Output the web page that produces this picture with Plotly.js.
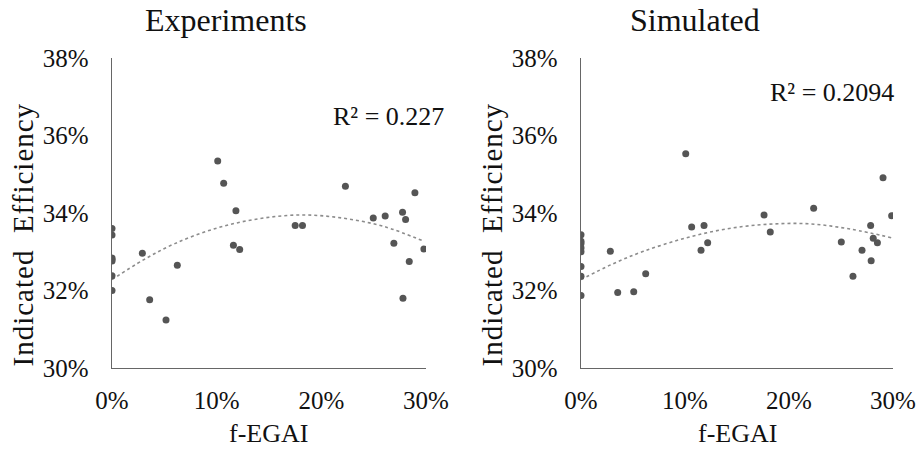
<!DOCTYPE html>
<html>
<head>
<meta charset="utf-8">
<script src="https://cdn.plot.ly/plotly-3.0.1.min.js"></script>
<style>
html,body{margin:0;padding:0;background:#fff;}
#chart{width:921px;height:450px;}
g.annotation[data-index="6"] text, g.annotation[data-index="7"] text { letter-spacing: 1px; }
</style>
</head>
<body>
<div id="chart"></div>
<script>
// Experiments (f-EGAI fraction, indicated efficiency fraction)
const expX = [0, 0, 0, 0, 0, 0, 0,
  0.029, 0.036, 0.0516, 0.0624, 0.101, 0.1067, 0.1184, 0.116, 0.122,
  0.175, 0.182, 0.223, 0.2496, 0.261, 0.2776, 0.2805, 0.2894, 0.2693, 0.298, 0.284, 0.278];
const expY = [0.3360, 0.3343, 0.3284, 0.3280, 0.3276, 0.3238, 0.3200,
  0.3296, 0.3176, 0.3124, 0.3265, 0.3534, 0.3477, 0.3406, 0.3317, 0.3306,
  0.3368, 0.3368, 0.3469, 0.3387, 0.3392, 0.3402, 0.3383, 0.3452, 0.3322, 0.3307, 0.3275, 0.3180];
// Simulated
const simX = [0, 0, 0, 0, 0, 0, 0, 0,
  0.0282, 0.0353, 0.0507, 0.0622, 0.1007, 0.1064, 0.1183, 0.1154, 0.1218,
  0.176, 0.182, 0.2237, 0.2503, 0.2615, 0.2702, 0.2785, 0.281, 0.279, 0.285, 0.2904, 0.2987];
const simY = [0.3344, 0.3327, 0.3321, 0.3310, 0.3300, 0.3262, 0.3237, 0.3187,
  0.3301, 0.3195, 0.3197, 0.3243, 0.3553, 0.3364, 0.3368, 0.3304, 0.3323,
  0.3395, 0.3351, 0.3412, 0.3325, 0.3237, 0.3304, 0.3368, 0.3335, 0.3277, 0.3323, 0.3491, 0.3393];
// Polynomial trendlines, points
const expTrendX = [0, 0.03, 0.06, 0.10, 0.14, 0.18, 0.22, 0.26, 0.298];
const expTrendY = [0.3228, 0.3279, 0.3321, 0.3361, 0.3385, 0.3395, 0.3387, 0.3365, 0.3327];
const simTrendX = [0, 0.03, 0.06, 0.10, 0.14, 0.18, 0.22, 0.26, 0.2987];
const simTrendY = [0.3228, 0.3268, 0.3301, 0.3335, 0.3359, 0.3371, 0.3372, 0.3358, 0.3336];

const titles = ["Experiments", "Simulated"];
const r2Labels = ["R² = 0.227", "R² = 0.2094"];
const xTitle = "f-EGAI";
const yTitle = "Indicated\u00A0 Efficiency";
const xTicks = [0, 0.1, 0.2, 0.3];
const yTicks = [0.30, 0.32, 0.34, 0.36, 0.38];

const FONT = 'Liberation Serif, Times New Roman, serif';
const markerColor = '#555555';
const trendLine = {color: '#8c8c8c', width: 1.6, dash: 'dot', shape: 'spline'};

const traces = [
  {x: expTrendX, y: expTrendY, xaxis: 'x', yaxis: 'y', mode: 'lines', line: trendLine, hoverinfo: 'skip'},
  {x: expX, y: expY, xaxis: 'x', yaxis: 'y', mode: 'markers', marker: {color: markerColor, size: 7}},
  {x: simTrendX, y: simTrendY, xaxis: 'x2', yaxis: 'y2', mode: 'lines', line: trendLine, hoverinfo: 'skip'},
  {x: simX, y: simY, xaxis: 'x2', yaxis: 'y2', mode: 'markers', marker: {color: markerColor, size: 7}}
];

const W = 921, H = 450;
const yDom = [1 - 368/H, 1 - 58/H];
function xAxis(dom, anchor) {
  return {domain: dom, anchor: anchor, range: [0, 0.30], tickvals: xTicks, tickformat: '.0%',
    showgrid: false, zeroline: false, showline: true, linecolor: '#666666', linewidth: 1.3,
    ticks: '', ticklabelstandoff: 10, tickfont: {family: FONT, size: 25, color: '#111'}, fixedrange: true};
}
function yAxis(anchor) {
  return {domain: yDom, anchor: anchor, range: [0.30, 0.38], tickvals: yTicks, tickformat: '.0%',
    showgrid: false, zeroline: false, showline: true, linecolor: '#666666', linewidth: 1.3,
    ticks: '', ticklabelstandoff: 17, tickfont: {family: FONT, size: 25, color: '#111'}, fixedrange: true};
}
const ann = (text, x, y, size, extra) => Object.assign({text, x: x/W, y: 1 - y/H, xref: 'paper', yref: 'paper',
  showarrow: false, xanchor: 'center', yanchor: 'middle', font: {family: FONT, size, color: '#111'}}, extra || {});

const layout = {
  width: W, height: H, margin: {l: 0, r: 0, t: 0, b: 0}, showlegend: false,
  paper_bgcolor: '#fff', plot_bgcolor: '#fff',
  xaxis: xAxis([112/W, 426/W], 'y'),
  yaxis: yAxis('x'),
  xaxis2: xAxis([581/W, 893/W], 'y2'),
  yaxis2: yAxis('x2'),
  annotations: [
    ann(titles[0], 226, 20, 32),
    ann(titles[1], 695, 20, 32),
    ann(r2Labels[0], 388, 116, 26),
    ann(r2Labels[1], 832, 92, 26),
    ann(xTitle, 268, 433, 26),
    ann(xTitle, 737, 433, 26),
    ann(yTitle, 23, 235, 29, {textangle: -90}),
    ann(yTitle, 492, 235, 29, {textangle: -90})
  ]
};
Plotly.newPlot('chart', traces, layout, {staticPlot: true, displayModeBar: false});
</script>
</body>
</html>
